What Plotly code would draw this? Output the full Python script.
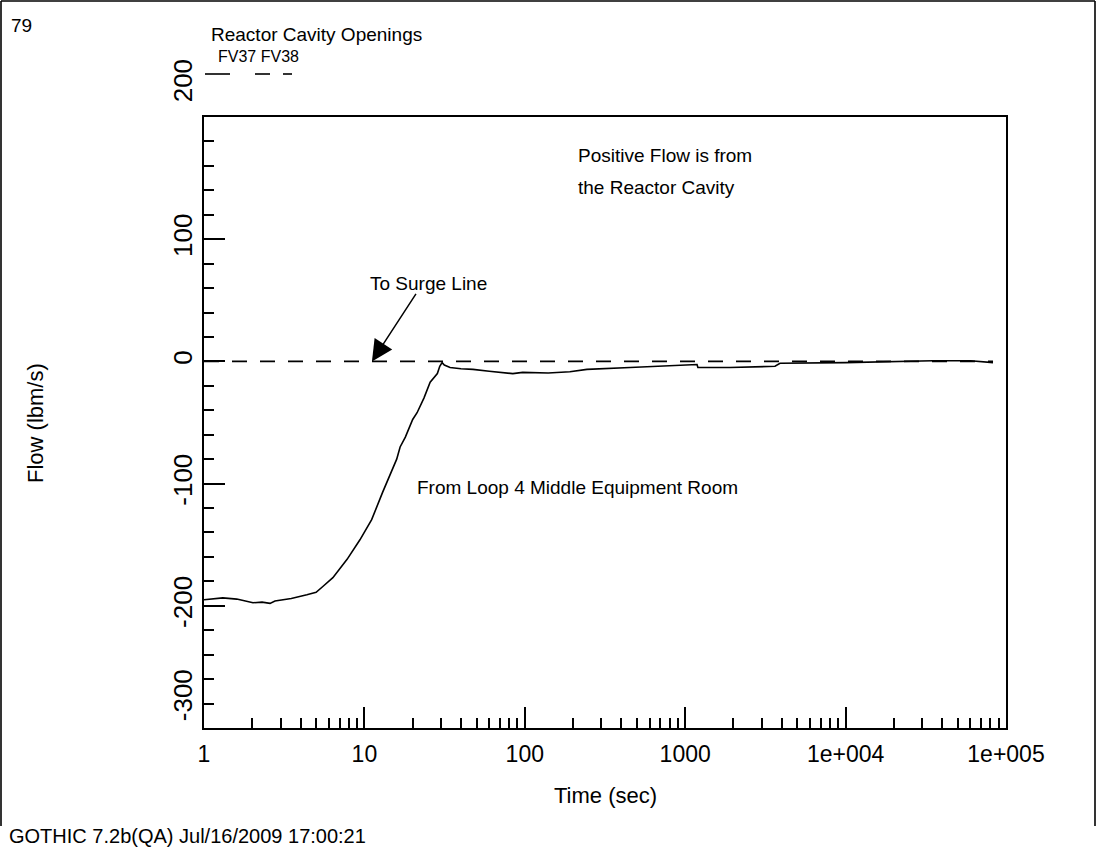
import plotly.graph_objects as go

# FV37 flow path (solid) and FV38 (dashed), flow in lbm/s versus time in seconds
fv37_time = [1.0, 1.15, 1.31, 1.6, 2.02, 2.3, 2.58, 2.77, 3.5, 4.38, 5.0, 5.53, 6.36,
             7.8, 9.38, 11.1, 13.0, 15.9, 16.7, 18.0, 20.0, 21.3, 23.5, 25.7, 27.5,
             28.5, 29.5, 30.5, 31.5, 34.2, 40.0, 47.5, 60.0, 84.2, 97.0, 140.0, 191.0,
             244.0, 453.0, 1185.0, 1200.0, 1900.0, 3630.0, 3900.0, 10000.0, 35000.0,
             60000.0, 83000.0]
fv37_flow = [-195, -194, -193.5, -194.5, -197.5, -197, -198, -196, -194, -191, -189,
             -184, -177, -162, -146, -129.5, -107, -80, -70, -62, -47.5, -42, -30, -17,
             -12, -10, -4, -1, -3, -5, -6, -6.5, -8, -10, -9, -9.5, -8.5, -6.5, -5,
             -2.5, -5, -5, -4, -1.5, -1, 0.5, 0.5, -1]

fv38_time = [1.0, 83000.0]
fv38_flow = [0.0, 0.0]

x_tickvals = [1, 10, 100, 1000, 10000, 100000]
x_ticktext = ["1", "10", "100", "1000", "1e+004", "1e+005"]
y_tickvals = [-300, -200, -100, 0, 100, 200]
y_ticktext = ["-300", "-200", "-100", "0", "100", "200"]

# the end labels of the flow axis sit pulled upward along the axis
NB = "\u00a0"
y_ticklabels = [NB * 8 + y_ticktext[0]] + y_ticktext[1:5] + [NB * 9 + y_ticktext[5]]

W, H = 1096, 852
L, R, T, B = 204, 90, 117, 124
PW, PH = W - L - R, H - T - B


def px(x):
    return (x - L) / PW


def py(y):
    return (H - B - y) / PH


FONT = "Liberation Sans, Arial, sans-serif"

fig = go.Figure()
fig.add_trace(go.Scatter(x=fv38_time, y=fv38_flow, mode="lines", name="FV38",
                         line=dict(color="black", width=1.6, dash="15px,13px")))
fig.add_trace(go.Scatter(x=fv37_time, y=fv37_flow, mode="lines", name="FV37",
                         line=dict(color="black", width=1.6)))

axis_common = dict(showline=True, linecolor="black", linewidth=2, mirror=True,
                   showgrid=False, zeroline=False, ticks="inside", tickwidth=2,
                   tickcolor="black", ticklen=21)

fig.update_xaxes(type="log", range=[0, 5], tickvals=x_tickvals, ticktext=x_ticktext,
                 tickfont=dict(family=FONT, size=23, color="black"),
                 ticklabelstandoff=4,
                 minor=dict(ticks="inside", ticklen=10, tickwidth=2, tickcolor="black",
                            dtick="D1", showgrid=False),
                 **axis_common)
fig.update_yaxes(range=[-300, 200], tickvals=y_tickvals, ticktext=y_ticklabels,
                 tickangle=-90, tickfont=dict(family=FONT, size=26, color="black"),
                 minor=dict(ticks="inside", ticklen=10, tickwidth=2, tickcolor="black",
                            dtick=20, showgrid=False),
                 **axis_common)

annotations = [
    dict(text="79", x=px(9), y=py(25), xanchor="left", yanchor="middle",
         font=dict(size=19)),
    dict(text="Reactor Cavity Openings", x=px(209), y=py(35), xanchor="left",
         yanchor="middle", font=dict(size=19)),
    dict(text="FV37 FV38", x=px(216), y=py(57), xanchor="left", yanchor="middle",
         font=dict(size=16)),
    dict(text="Positive Flow is from", x=px(576), y=py(155), xanchor="left",
         yanchor="middle", font=dict(size=19)),
    dict(text="the Reactor Cavity", x=px(576), y=py(188), xanchor="left",
         yanchor="middle", font=dict(size=19)),
    dict(text="To Surge Line", x=px(428), y=py(283), xanchor="center",
         yanchor="middle", font=dict(size=19)),
    dict(text="From Loop 4 Middle Equipment Room", x=px(415), y=py(487),
         xanchor="left", yanchor="middle", font=dict(size=19)),
    dict(text="Time (sec)", x=px(605), y=py(795), xanchor="center",
         yanchor="middle", font=dict(size=22)),
    dict(text="Flow (lbm/s)", x=px(35), y=py(423), xanchor="center",
         yanchor="middle", textangle=-90, font=dict(size=22)),
    dict(text="GOTHIC 7.2b(QA) Jul/16/2009 17:00:21", x=px(7), y=py(836),
         xanchor="left", yanchor="middle", font=dict(size=20)),
]
for a in annotations:
    a.update(xref="paper", yref="paper", showarrow=False)
    a["font"]["family"] = FONT
    a["font"]["color"] = "black"

# arrow pointing at the surge line opening
annotations.append(dict(x=1.047, y=0, xref="x", yref="y", text="", showarrow=True,
                        arrowhead=2, arrowsize=2.8, arrowwidth=1.5, arrowcolor="black",
                        ax=45, ay=-69, axref="pixel", ayref="pixel"))

shapes = [
    # page frame
    dict(type="line", x0=px(1), x1=px(1), y0=py(1), y1=py(826)),
    dict(type="line", x0=px(1), x1=px(1095), y0=py(1), y1=py(1)),
    dict(type="line", x0=px(1095), x1=px(1095), y0=py(1), y1=py(826)),
    # legend line samples
    dict(type="line", x0=px(205), x1=px(230), y0=py(74), y1=py(74)),
    dict(type="line", x0=px(255), x1=px(270), y0=py(74), y1=py(74)),
    dict(type="line", x0=px(283), x1=px(292), y0=py(74), y1=py(74)),
]
for s in shapes:
    s.update(xref="paper", yref="paper", line=dict(color="black", width=1.6))

fig.update_layout(width=W, height=H, margin=dict(l=L, r=R, t=T, b=B),
                  paper_bgcolor="white", plot_bgcolor="white", showlegend=False,
                  font=dict(family=FONT, color="black"),
                  annotations=annotations, shapes=shapes)

fig.write_html("out.html")
